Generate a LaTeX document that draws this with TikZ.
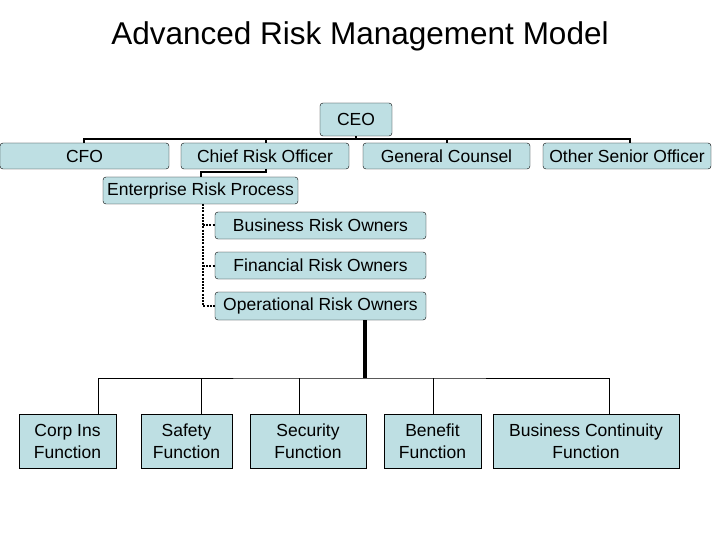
\documentclass[tikz,border=0pt]{standalone}
\usepackage{fontspec}
\setmainfont{Liberation Sans}
\begin{document}
\begin{tikzpicture}[x=1pt,y=-1pt,
  rbox/.style={draw=black,fill=boxc,rounded corners=3pt,inner sep=0pt,font=\fontsize{17.5}{19}\selectfont},
  sbox/.style={draw=black,fill=boxc,inner sep=0pt,align=center,font=\fontsize{17.5}{22}\selectfont},
  conn/.style={line width=1.8pt},
  thin/.style={line width=0.8pt},
  dots/.style={line width=2pt,dash pattern=on 2pt off 1.2pt}]
\definecolor{boxc}{HTML}{BEDFE3}
\useasboundingbox (0,0) rectangle (720,540);
\node (title) at (360,36) {\fontsize{31.5}{34}\selectfont Advanced Risk Management Model};
% top level
\node[rbox,minimum width=72,minimum height=33] (ceo) at (356,119.5) {CEO};
\node[rbox,minimum width=169,minimum height=26] (cfo) at (84.5,156) {CFO};
\node[rbox,minimum width=168,minimum height=26] (cro) at (265,156) {Chief Risk Officer};
\node[rbox,minimum width=167,minimum height=26] (gc) at (446.5,156) {General Counsel};
\node[rbox,minimum width=168,minimum height=26] (oso) at (627,156) {Other Senior Officer};
\node[rbox,minimum width=195,minimum height=27] (erp) at (200.5,190.5) {Enterprise Risk Process};
\node[rbox,minimum width=211,minimum height=27] (bro) at (320.5,225.5) {Business Risk Owners};
\node[rbox,minimum width=211,minimum height=27] (fro) at (320.5,265.5) {Financial Risk Owners};
\node[rbox,minimum width=211,minimum height=28] (oro) at (320.5,306) {Operational Risk Owners};
% bottom
\node[sbox,minimum width=97,minimum height=54] (ci) at (67.5,441) {Corp Ins\\Function};
\node[sbox,minimum width=91,minimum height=54] (sf) at (186.5,441) {Safety\\Function};
\node[sbox,minimum width=116,minimum height=54] (sec) at (308,441) {Security\\Function};
\node[sbox,minimum width=97,minimum height=54] (ben) at (432.5,441) {Benefit\\Function};
\node[sbox,minimum width=186,minimum height=54] (bc) at (586,441) {Business Continuity\\Function};
% top connectors
\coordinate (bar) at (356,139);
\draw[conn] (ceo.south) -- (bar);
\draw[conn] (84,143) |- (bar) -| (630,143);
\draw[conn] (266,139) -- (266,143);
\draw[conn] (447,139) -- (447,143);
\draw[conn] (266,169) |- (201,172) -- (201,177);
% dotted
\draw[dots] (203,204) |- (oro.west);
\draw[dots] (203,225.5) -- (bro.west);
\draw[dots] (203,265.5) -- (fro.west);
% bottom connectors
\draw[line width=3.5pt] (365,320) -- (365,378);
\draw[thin] (98,414) |- (365,378) -| (609,414);
\draw[thin] (201,378) -- (201,414);
\draw[thin] (299,378) -- (299,414);
\draw[thin] (433,378) -- (433,414);
\end{tikzpicture}
\end{document}
